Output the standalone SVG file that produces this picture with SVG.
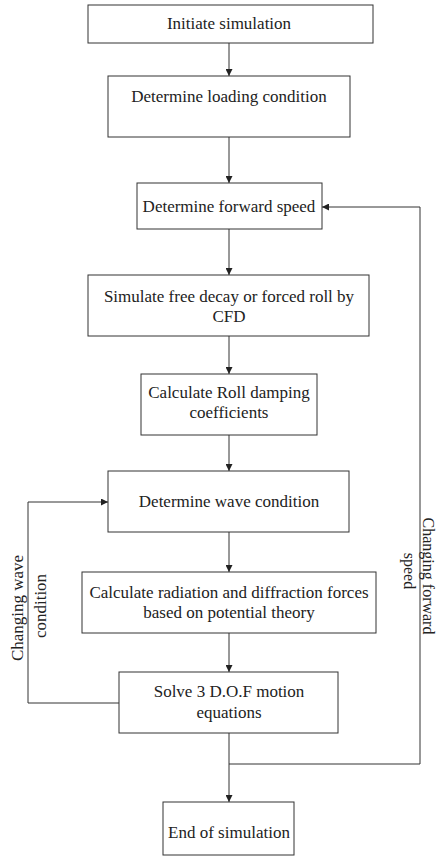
<svg xmlns="http://www.w3.org/2000/svg" width="438" height="859" viewBox="0 0 438 859">
<style>
.box{fill:#fff;stroke:#333;stroke-width:1}
.t{font-family:"Liberation Serif","Times New Roman",serif;font-size:17px;fill:#222;text-anchor:middle}
.r{font-size:16px}
.c{fill:none;stroke:#333;stroke-width:1}
</style>
<defs>
<marker id="ah" viewBox="0 0 10 10" refX="10" refY="5" markerWidth="7" markerHeight="7" orient="auto" markerUnits="userSpaceOnUse">
<path d="M0,0 L10,5 L0,10 Z" fill="#222"/>
</marker>
</defs>
<rect width="438" height="859" fill="#fff"/>
<g id="connectors">
<path class="c" d="M229,43 V76" marker-end="url(#ah)"/>
<path class="c" d="M229,137 V183" marker-end="url(#ah)"/>
<path class="c" d="M229,229 V275" marker-end="url(#ah)"/>
<path class="c" d="M229,336 V374" marker-end="url(#ah)"/>
<path class="c" d="M229,435 V471" marker-end="url(#ah)"/>
<path class="c" d="M229,532 V572" marker-end="url(#ah)"/>
<path class="c" d="M229,633 V672" marker-end="url(#ah)"/>
<path class="c" d="M229,733 V802" marker-end="url(#ah)"/>
<path class="c" d="M119,703 H28 V502 H108" marker-end="url(#ah)"/>
<path class="c" d="M229,764 H420 V207 H322" marker-end="url(#ah)"/>
<text class="t" transform="translate(18,608) rotate(-90)" y="5">Changing wave</text>
<text class="t" transform="translate(41,606) rotate(-90)" y="5">condition</text>
<text class="t r" transform="translate(428,576) rotate(90)" y="5">Changing forward</text>
<text class="t r" transform="translate(409,571) rotate(90)" y="5">speed</text>
</g>
<g id="n1"><rect class="box" x="88" y="5" width="285" height="38"/><text class="t" x="229" y="29">Initiate simulation</text></g>
<g id="n2"><rect class="box" x="108" y="76" width="242" height="61"/><text class="t" x="229" y="102">Determine loading condition</text></g>
<g id="n3"><rect class="box" x="137" y="183" width="185" height="46"/><text class="t" x="229" y="212">Determine forward speed</text></g>
<g id="n4"><rect class="box" x="88" y="275" width="281" height="61"/><text class="t" x="229" y="302">Simulate free decay or forced roll by</text><text class="t" x="229" y="322">CFD</text></g>
<g id="n5"><rect class="box" x="141" y="374" width="176" height="61"/><text class="t" x="229" y="398">Calculate Roll damping</text><text class="t" x="229" y="418">coefficients</text></g>
<g id="n6"><rect class="box" x="108" y="471" width="241" height="61"/><text class="t" x="229" y="507">Determine wave condition</text></g>
<g id="n7"><rect class="box" x="82" y="572" width="294" height="61"/><text class="t" x="229" y="598">Calculate radiation and diffraction forces</text><text class="t" x="229" y="618">based on potential theory</text></g>
<g id="n8"><rect class="box" x="119" y="672" width="219" height="61"/><text class="t" x="229" y="697">Solve 3 D.O.F motion</text><text class="t" x="229" y="718">equations</text></g>
<g id="n9"><rect class="box" x="163" y="802" width="131" height="53"/><text class="t" x="229" y="838">End of simulation</text></g>
</svg>
